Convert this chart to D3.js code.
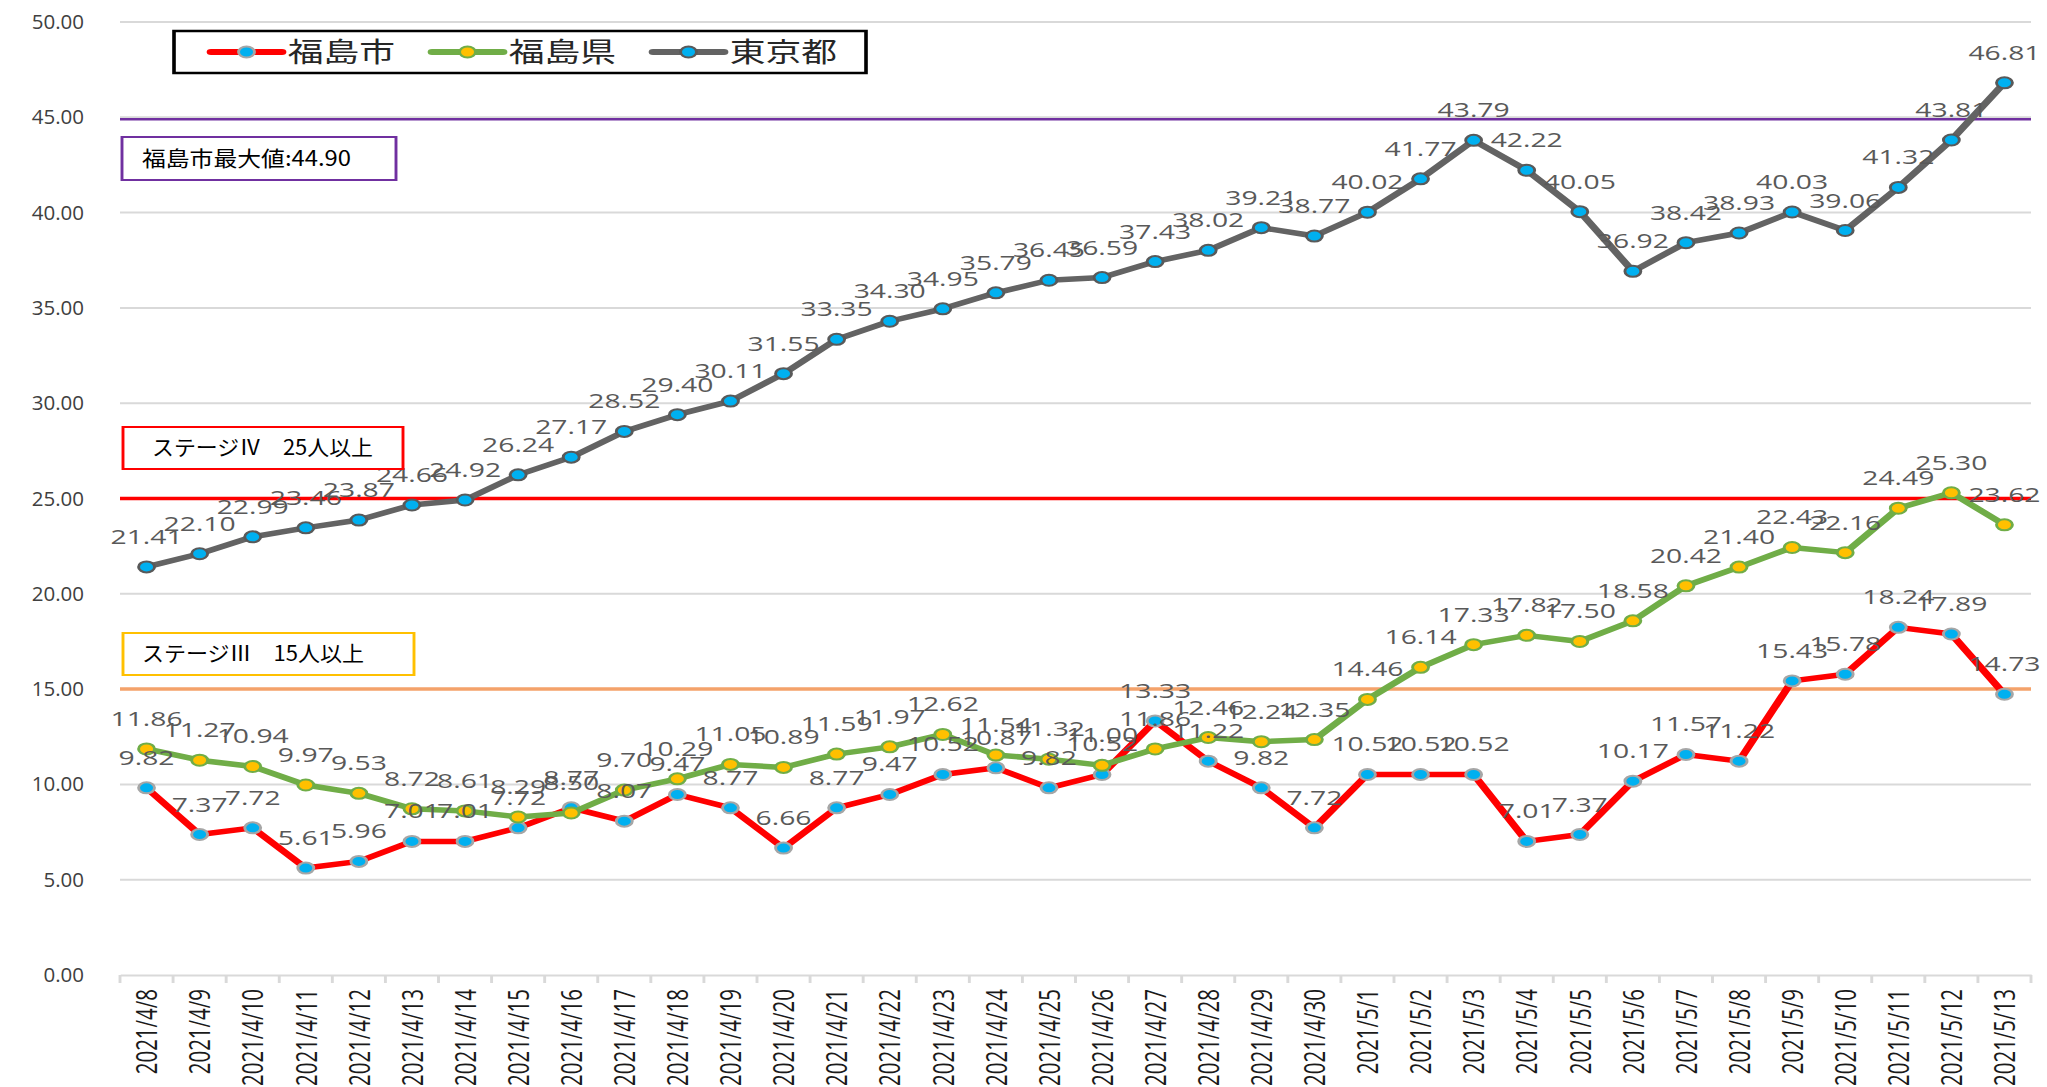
<!DOCTYPE html>
<html lang="ja">
<head>
<meta charset="utf-8">
<script src="https://d3js.org/d3.v7.min.js"></script>
<style>
  body { margin: 0; background: #fff; }
  svg { display: block; }
</style>
</head>
<body>
<svg id="chart"></svg>
<script>
// data
const dates = [
  '2021/4/8', '2021/4/9', '2021/4/10', '2021/4/11', '2021/4/12', '2021/4/13', '2021/4/14',
  '2021/4/15', '2021/4/16', '2021/4/17', '2021/4/18', '2021/4/19', '2021/4/20', '2021/4/21',
  '2021/4/22', '2021/4/23', '2021/4/24', '2021/4/25', '2021/4/26', '2021/4/27', '2021/4/28',
  '2021/4/29', '2021/4/30', '2021/5/1', '2021/5/2', '2021/5/3', '2021/5/4', '2021/5/5',
  '2021/5/6', '2021/5/7', '2021/5/8', '2021/5/9', '2021/5/10', '2021/5/11', '2021/5/12', '2021/5/13'
];
const fukushimaCity = [
  9.82, 7.37, 7.72, 5.61, 5.96, 7.01, 7.01, 7.72, 8.77, 8.07, 9.47, 8.77, 6.66, 8.77,
  9.47, 10.52, 10.87, 9.82, 10.52, 13.33, 11.22, 9.82, 7.72, 10.52, 10.52, 10.52, 7.01, 7.37,
  10.17, 11.57, 11.22, 15.43, 15.78, 18.24, 17.89, 14.73
];
const fukushimaPref = [
  11.86, 11.27, 10.94, 9.97, 9.53, 8.72, 8.61, 8.29, 8.50, 9.70, 10.29, 11.05, 10.89, 11.59,
  11.97, 12.62, 11.54, 11.32, 11.00, 11.86, 12.46, 12.24, 12.35, 14.46, 16.14, 17.33, 17.82, 17.50,
  18.58, 20.42, 21.40, 22.43, 22.16, 24.49, 25.30, 23.62
];
const tokyo = [
  21.41, 22.10, 22.99, 23.46, 23.87, 24.66, 24.92, 26.24, 27.17, 28.52, 29.40, 30.11, 31.55, 33.35,
  34.30, 34.95, 35.79, 36.45, 36.59, 37.43, 38.02, 39.21, 38.77, 40.02, 41.77, 43.79, 42.22, 40.05,
  36.92, 38.42, 38.93, 40.03, 39.06, 41.32, 43.81, 46.81
];
const seriesNames = ['福島市', '福島県', '東京都'];
const yTicks = [0, 5, 10, 15, 20, 25, 30, 35, 40, 45, 50];
const refValues = [44.90, 25, 15];
const refTexts = ['福島市最大値:44.90', 'ステージⅣ　25人以上', 'ステージⅢ　15人以上'];

// the source picture is stretched sideways, so draw narrow and let the viewBox widen it
const K = 1.45;
const W = 2047, H = 1087;
const VW = W / K;
const plotL = 120 / K, plotR = 2031 / K, plotT = 22, plotB = 975;
const numFont = "'Open Sans', 'Noto Sans', sans-serif";
const jpFont = "'Noto Sans CJK JP', sans-serif";

const svg = d3.select('#chart')
  .attr('width', W).attr('height', H)
  .attr('viewBox', `0 0 ${VW} ${H}`)
  .attr('preserveAspectRatio', 'none');

const x = d3.scaleBand().domain(dates).range([plotL, plotR]);
const y = d3.scaleLinear().domain([0, 50]).range([plotB, plotT]);
const cx = d => x(d) + x.bandwidth() / 2;

// gridlines
svg.append('g').selectAll('line')
  .data(yTicks.filter(t => t > 0))
  .enter().append('line')
  .attr('x1', plotL).attr('x2', plotR)
  .attr('y1', d => y(d)).attr('y2', d => y(d))
  .attr('stroke', '#d9d9d9').attr('stroke-width', 2);

// y axis labels (these are not widened in the source)
const yAxis = svg.append('g')
  .attr('transform', 'translate(' + (84 / K) + ',0)')
  .call(d3.axisLeft(y).tickValues(yTicks).tickFormat(d3.format('.2f')).tickSize(0).tickPadding(0));
yAxis.select('.domain').remove();
yAxis.selectAll('text')
  .attr('x', 0)
  .attr('transform', 'scale(' + (1 / K) + ',1)')
  .attr('font-family', numFont).attr('font-size', 20.5).attr('fill', '#404040');

// x axis
const xAxis = svg.append('g')
  .attr('transform', 'translate(0,' + plotB + ')')
  .call(d3.axisBottom(x).tickSize(0).tickSizeOuter(0));
xAxis.select('.domain').attr('stroke', '#d9d9d9').attr('stroke-width', 2);
xAxis.selectAll('text')
  .attr('transform', 'rotate(-90)')
  .attr('text-anchor', 'end')
  .attr('x', -14).attr('y', 0).attr('dy', '0.36em')
  .attr('font-family', numFont).attr('font-size', 20.5).attr('fill', '#1a1a1a');
xAxis.selectAll('.boundary')
  .data(dates.map(d => x(d)).concat([plotR]))
  .enter().append('line')
  .attr('x1', d => d).attr('x2', d => d)
  .attr('y1', 0).attr('y2', 8)
  .attr('stroke', '#d9d9d9').attr('stroke-width', 2);

// reference lines
const refColors = ['#7030A0', '#FF0000', '#F4A26A'];
const refWidths = [2.5, 3.5, 3.5];
svg.append('g').selectAll('line')
  .data(refValues)
  .enter().append('line')
  .attr('x1', plotL).attr('x2', plotR)
  .attr('y1', d => y(d)).attr('y2', d => y(d))
  .attr('stroke', (d, i) => refColors[i])
  .attr('stroke-width', (d, i) => refWidths[i]);

// series
const series = [
  { name: seriesNames[0], values: fukushimaCity, line: '#FF0000', fill: '#00B0F0', edge: '#A6A6A6' },
  { name: seriesNames[1], values: fukushimaPref, line: '#70AD47', fill: '#FFC000', edge: '#70AD47' },
  { name: seriesNames[2], values: tokyo, line: '#636363', fill: '#00B0F0', edge: '#595959' }
];
const line = d3.line().x((v, i) => cx(dates[i])).y(v => y(v));

series.forEach(s => {
  const g = svg.append('g');
  g.append('path')
    .attr('d', line(s.values))
    .attr('fill', 'none').attr('stroke', s.line)
    .attr('stroke-width', 5.5).attr('stroke-linejoin', 'round');
  g.selectAll('circle')
    .data(s.values)
    .enter().append('circle')
    .attr('cx', (v, i) => cx(dates[i])).attr('cy', v => y(v))
    .attr('r', 5.5)
    .attr('fill', s.fill).attr('stroke', s.edge).attr('stroke-width', 2);
});

// data labels
series.forEach(s => {
  svg.append('g').selectAll('text')
    .data(s.values)
    .enter().append('text')
    .attr('x', (v, i) => cx(dates[i])).attr('y', v => y(v) - 23)
    .attr('text-anchor', 'middle')
    .attr('font-family', numFont).attr('font-size', 19.5).attr('fill', '#595959')
    .text(d3.format('.2f'));
});

// legend
const legend = svg.append('g');
legend.append('rect')
  .attr('x', 174 / K).attr('y', 31).attr('width', (866 - 174) / K).attr('height', 42)
  .attr('fill', '#fff').attr('stroke', '#000').attr('stroke-width', 2.5);
series.forEach((s, i) => {
  const lx = (211 + i * 221) / K;
  const item = legend.append('g').attr('transform', 'translate(' + lx + ',52)');
  item.append('line')
    .attr('x1', 0).attr('x2', 49).attr('y1', 0).attr('y2', 0)
    .attr('stroke', s.line).attr('stroke-width', 6).attr('stroke-linecap', 'round');
  item.append('circle')
    .attr('cx', 24.5).attr('cy', 0).attr('r', 5.5)
    .attr('fill', s.fill).attr('stroke', s.edge).attr('stroke-width', 2);
  item.append('text')
    .attr('x', 53).attr('y', 10)
    .attr('font-family', jpFont).attr('font-size', 27).attr('fill', '#262626')
    .attr('textLength', 74).attr('lengthAdjust', 'spacingAndGlyphs')
    .text(s.name);
});

// annotation boxes
const boxes = [
  { x0: 122, x1: 396, y0: 137, y1: 180, tx0: 142, tx1: 351, color: '#7030A0' },
  { x0: 123, x1: 403, y0: 427, y1: 469, tx0: 152, tx1: 373, color: '#FF0000' },
  { x0: 123, x1: 414, y0: 633, y1: 675, tx0: 142, tx1: 364, color: '#FFC000' }
];
boxes.forEach((b, i) => {
  const g = svg.append('g');
  g.append('rect')
    .attr('x', b.x0 / K).attr('y', b.y0)
    .attr('width', (b.x1 - b.x0) / K).attr('height', b.y1 - b.y0)
    .attr('fill', '#fff').attr('stroke', b.color).attr('stroke-width', 2);
  g.append('text')
    .attr('x', b.tx0 / K).attr('y', (b.y0 + b.y1) / 2 + 7.5)
    .attr('font-family', jpFont).attr('font-size', 21).attr('fill', '#000')
    .attr('textLength', (b.tx1 - b.tx0) / K).attr('lengthAdjust', 'spacingAndGlyphs')
    .text(refTexts[i]);
});
</script>
</body>
</html>
